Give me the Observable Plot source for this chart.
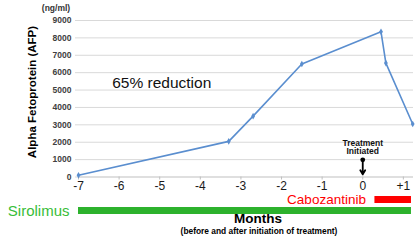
<!DOCTYPE html>
<html>
<head>
<meta charset="utf-8">
<script src="https://cdn.jsdelivr.net/npm/d3@7"></script>
<script src="https://cdn.jsdelivr.net/npm/@observablehq/plot@0.6"></script>
<style>
  body { margin: 0; background: #fff; }
  #chart { position: relative; width: 418px; height: 241px; overflow: hidden; background: #fff;
           font-family: "Liberation Sans", Arial, sans-serif; }
  #chart svg { position: absolute; left: 0; }
  .lbl { position: absolute; white-space: nowrap; font-weight: bold; color: #000; line-height: 1; }
  #ytitle { left: 33px; top: 92px; font-size: 11.5px; transform: translate(-50%, -50%) rotate(-90deg); }
  #units { left: 56px; top: 8px; font-size: 8.5px; color: #333; transform: translate(-50%, -50%); }
  #xtitle { left: 258px; top: 219px; font-size: 13.5px; transform: translate(-50%, -50%); }
  #xsub { left: 259px; top: 231px; font-size: 8.4px; transform: translate(-50%, -50%); }
</style>
</head>
<body>
<div id="chart">
  <div class="lbl" id="ytitle">Alpha Fetoprotein (AFP)</div>
  <div class="lbl" id="units">(ng/ml)</div>
  <div class="lbl" id="xtitle">Months</div>
  <div class="lbl" id="xsub">(before and after initiation of treatment)</div>
</div>
<script>
// AFP measurements, months relative to the start of cabozantinib
const months = [-7, -3.3, -2.7, -1.5, 0.45, 0.57, 1.23];
const afp = [100, 2050, 3500, 6500, 8350, 6550, 3050];

// Axis ticks
const xTicks = [-7, -6, -5, -4, -3, -2, -1, 0, 1];
const yTicks = [0, 1000, 2000, 3000, 4000, 5000, 6000, 7000, 8000, 9000];

// Treatment periods (months)
const drugs = ["Cabozantinib", "Sirolimus"];
const drugStart = [0.3, -7];
const drugEnd = [1.2, 1.2];
const drugColors = ["#ff0000", "#2db22d"];
const drugTextColors = ["#ff0000", "#38bd38"];

const points = months.map((m, i) => ({month: m, afp: afp[i]}));
const treatments = drugs.map((d, i) => ({drug: d, start: drugStart[i], end: drugEnd[i],
                                         bar: drugColors[i], ink: drugTextColors[i]}));

const xDomain = [-7, 1.25];
const chart = document.getElementById("chart");

const main = Plot.plot({
  width: 418, height: 195,
  marginLeft: 78, marginRight: 5, marginTop: 20, marginBottom: 18.5,
  style: {fontFamily: "Liberation Sans, Arial, sans-serif", background: "transparent"},
  x: {domain: xDomain, label: null},
  y: {domain: [0, 9000], label: null},
  marks: [
    Plot.gridY(yTicks.slice(1), {stroke: "#d9d9d9", strokeOpacity: 1}),
    Plot.ruleY([0], {stroke: "#bfbfbf"}),
    Plot.axisY({ticks: yTicks, tickSize: 3, tickPadding: 4, stroke: "#d9d9d9",
                fontSize: 8.5, fontWeight: "bold", fill: "#404040", label: null,
                tickFormat: d => String(d)}),
    Plot.axisX({ticks: xTicks, tickSize: 3, tickPadding: 1, stroke: "#bfbfbf",
                fontSize: 12, fill: "#1a1a1a", label: null,
                tickFormat: d => d > 0 ? "+" + d : String(d)}),
    Plot.line(points, {x: "month", y: "afp", stroke: "#5a8ecf", strokeWidth: 1.6}),
    Plot.dot(points, {x: "month", y: "afp", symbol: "diamond", r: 2, fill: "#5a8ecf"}),
    Plot.text(["65% reduction"], {x: -4.95, y: 5400, text: d => d, fontSize: 15.5, fill: "#111"}),
    Plot.text(["Treatment\nInitiated"], {x: 0, y: 1720, text: d => d, fontSize: 8.5,
              fontWeight: "bold", lineHeight: 1, fill: "#111"}),
    Plot.arrow([{y1: 990, y2: 150}], {x1: 0, x2: 0, y1: "y1", y2: "y2", stroke: "#000",
              strokeWidth: 1.8, headLength: 7}),
    Plot.dot([990], {x: 0, y: d => d, r: 2.4, fill: "#000"})
  ]
});
main.style.top = "0px";
chart.appendChild(main);

const bars = Plot.plot({
  width: 418, height: 46,
  marginLeft: 78, marginRight: 5, marginTop: 0, marginBottom: 0,
  style: {fontFamily: "Liberation Sans, Arial, sans-serif", background: "transparent", overflow: "visible"},
  x: {domain: xDomain, axis: null},
  y: {type: "band", domain: drugs, range: [1, 19], padding: 0, axis: null},
  marks: [
    Plot.barX(treatments.filter(d => d.drug === "Cabozantinib"),
      {x1: "start", x2: "end", y: "drug", fill: "bar", insetBottom: 2}),
    Plot.barX(treatments.filter(d => d.drug === "Sirolimus"),
      {x1: "start", x2: "end", y: "drug", fill: "bar", insetTop: 2}),
    Plot.text(treatments.filter(d => d.drug === "Cabozantinib"),
      {x: "start", y: "drug", text: "drug", textAnchor: "end", dx: -9, dy: -1,
       fill: "ink", fontSize: 13.5}),
    Plot.text(treatments.filter(d => d.drug === "Sirolimus"),
      {x: "start", y: "drug", text: "drug", textAnchor: "end", dx: -9, dy: 1,
       fill: "ink", fontSize: 15})
  ]
});
bars.style.top = "195px";
chart.appendChild(bars);
</script>
</body>
</html>
